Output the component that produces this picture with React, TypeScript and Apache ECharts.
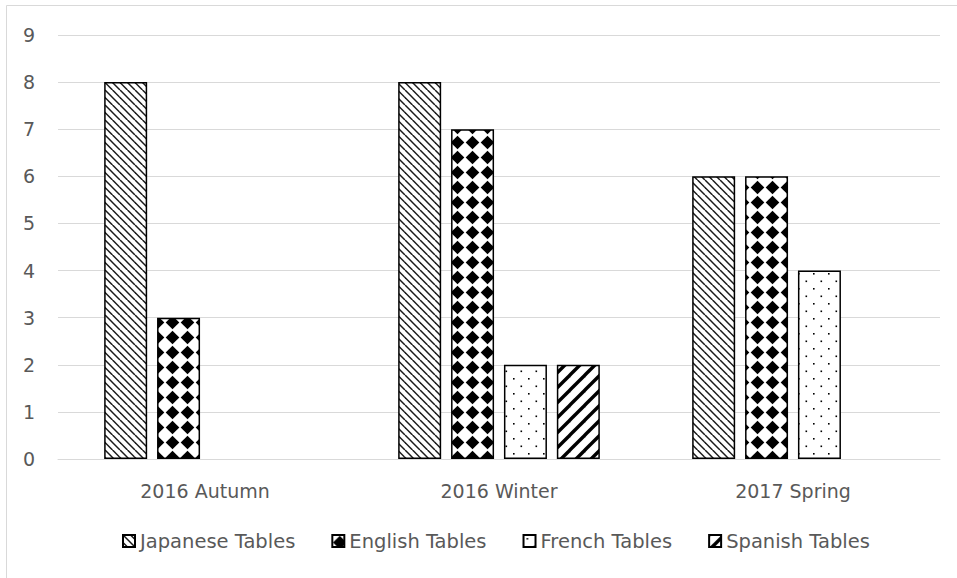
import React, { useEffect, useRef } from "react";
import * as echarts from "echarts";

const categories = ["2016 Autumn", "2016 Winter", "2017 Spring"];
const seriesNames = ["Japanese Tables", "English Tables", "French Tables", "Spanish Tables"];
const japaneseValues = [8, 8, 6];
const englishValues = [3, 7, 6];
const frenchValues = [null, 2, 4];
const spanishValues = [null, 2, null];
const yTicks = [0, 9, 1]; // min, max, interval

function makeCanvas(size: number, draw: (ctx: CanvasRenderingContext2D, s: number) => void) {
  const c = document.createElement("canvas");
  c.width = size;
  c.height = size;
  const ctx = c.getContext("2d")!;
  ctx.fillStyle = "#ffffff";
  ctx.fillRect(0, 0, size, size);
  draw(ctx, size);
  return c;
}

function patterns() {
  const japanese = makeCanvas(15, (ctx, s) => {
    ctx.strokeStyle = "#1a1a1a";
    ctx.lineWidth = 1.5;
    for (let k = -4; k <= 4; k++) {
      ctx.beginPath();
      ctx.moveTo(k * 7.5, 0);
      ctx.lineTo(k * 7.5 + s, s);
      ctx.stroke();
    }
  });
  const english = makeCanvas(15, (ctx, s) => {
    ctx.fillStyle = "#000000";
    const h = 6.8;
    const cx = s / 2;
    ctx.beginPath();
    ctx.moveTo(cx, cx - h);
    ctx.lineTo(cx + h, cx);
    ctx.lineTo(cx, cx + h);
    ctx.lineTo(cx - h, cx);
    ctx.closePath();
    ctx.fill();
  });
  const french = makeCanvas(15, (ctx) => {
    ctx.fillStyle = "#000000";
    ctx.fillRect(3, 3, 1.6, 1.6);
    ctx.fillRect(10.5, 10.5, 1.6, 1.6);
  });
  const spanish = makeCanvas(15, (ctx, s) => {
    ctx.strokeStyle = "#000000";
    ctx.lineWidth = 3.4;
    for (let k = -2; k <= 2; k++) {
      ctx.beginPath();
      ctx.moveTo(k * s - 2, s + 2);
      ctx.lineTo(k * s + s + 2, -2);
      ctx.stroke();
    }
  });
  return [japanese, english, french, spanish];
}

export default function App() {
  const ref = useRef<HTMLDivElement>(null);
  useEffect(() => {
    if (!ref.current) return;
    const chart = echarts.init(ref.current, null, { renderer: "svg" });
    const pats = patterns();
    const dataSets = [japaneseValues, englishValues, frenchValues, spanishValues];
    const font = "'DejaVu Sans', sans-serif";
    const textColor = "#595959";
    chart.setOption({
      animation: false,
      backgroundColor: "#ffffff",
      graphic: [
        {
          type: "rect",
          shape: { x: 6.5, y: 5.5, width: 1000, height: 1000 },
          style: { fill: "none", stroke: "#d9d9d9", lineWidth: 1 },
          silent: true,
        },
      ],
      grid: { left: 58, right: 17, top: 35, bottom: 119, containLabel: false },
      xAxis: {
        type: "category",
        data: categories,
        axisLine: { lineStyle: { color: "#d9d9d9", width: 1 } },
        axisTick: { show: false },
        axisLabel: { color: textColor, fontFamily: font, fontSize: 19, margin: 22 },
      },
      yAxis: {
        type: "value",
        min: yTicks[0],
        max: yTicks[1],
        interval: yTicks[2],
        axisLine: { show: false },
        axisTick: { show: false },
        splitLine: { lineStyle: { color: "#d9d9d9", width: 1 } },
        axisLabel: { color: textColor, fontFamily: font, fontSize: 19, margin: 23 },
      },
      legend: {
        bottom: 22,
        left: 117,
        itemWidth: 12,
        itemHeight: 12,
        itemGap: 36,
        icon: "rect",
        textStyle: { color: textColor, fontFamily: font, fontSize: 19.5 },
        data: seriesNames,
      },
      series: seriesNames.map((name, i) => ({
        name,
        type: "bar",
        data: dataSets[i],
        barWidth: 43,
        barGap: "23%",
        itemStyle: {
          color: { image: pats[i], repeat: "repeat", imageWidth: 15, imageHeight: 15 },
          borderColor: "#000000",
          borderWidth: 1.5,
        },
      })),
    });
    return () => chart.dispose();
  }, []);
  return (
    <div
      ref={ref}
      style={{ position: "absolute", left: 0, top: 0, width: 957, height: 578, background: "#fff" }}
    />
  );
}
